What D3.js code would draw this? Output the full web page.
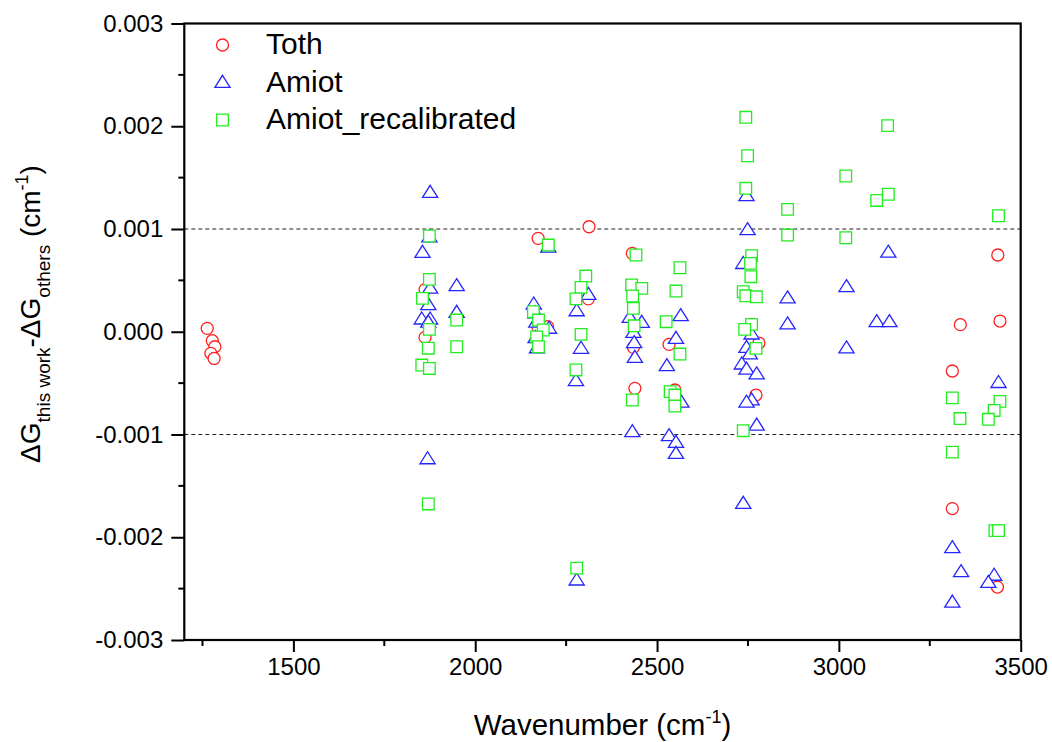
<!DOCTYPE html>
<html>
<head>
<meta charset="utf-8">
<script src="https://cdn.jsdelivr.net/npm/d3@7"></script>
<style>
  html, body { margin: 0; padding: 0; background: #fff; }
  svg { display: block; font-family: "Liberation Sans", Arial, sans-serif; }
</style>
</head>
<body>
<svg id="chart" width="1052" height="742"></svg>
<script>
// ---- Data (wavenumber in cm^-1, difference in cm^-1) ----
const seriesNames = ["Toth", "Amiot", "Amiot_recalibrated"];

const tothX = [1263, 1277, 1284, 1273, 1282, 1862, 1862, 2173, 2172, 2199, 2313, 2311,
  2432, 2435, 2439, 2533, 2549, 2780, 2772, 3334, 3443, 3437, 3312, 3312, 3436];
const tothY = [0.000033, -0.000087, -0.000146, -0.00021, -0.00026, 0.00041, -0.000055,
  0.000909, 0.00005, 0.00005, 0.001022, 0.00032, 0.000763, -0.000152, -0.000551,
  -0.000123, -0.000567, -0.00011, -0.000616, 0.000069, 0.000104, 0.000747,
  -0.000382, -0.001721, -0.002485];

const amiotX = [1876, 1855, 1874, 1876, 1871, 1853, 1876, 1871, 1869, 1949, 1949,
  2161, 2165, 2168, 2166, 2170, 2201, 2203, 2311, 2279, 2291, 2277, 2279,
  2425, 2458, 2435, 2437, 2439, 2432, 2565, 2552, 2527, 2567, 2533, 2552, 2552,
  2746, 2749, 2737, 2760, 2746, 2755, 2733, 2746, 2774, 2760, 2746, 2774, 2737,
  2859, 2859, 3021, 3021, 3136, 3104, 3139, 3439, 3312, 3336, 3427, 3411, 3312];
const amiotY = [0.001363, 0.000779, 0.00093, 0.00043, 0.00027, 0.00013, 0.00013, 0.0001,
  -0.00123, 0.000455, 0.000195, 0.000276, 0.00019, 0.0001, -0.00005, -0.00015,
  0.00083, 0.00004, 0.00037, 0.00021, -0.000155, -0.00047, -0.00241,
  0.000146, 0.000098, 0.0, -0.0001, -0.000243, -0.000966, 0.000163, -0.000058,
  -0.000324, -0.00068, -0.001005, -0.00107, -0.001177,
  0.00133, 0.000999, 0.00067, -0.000016, -0.000146, -0.00021, -0.000308, -0.000357,
  -0.000405, -0.000658, -0.00068, -0.000902, -0.001664,
  0.000335, 0.000082, 0.000445, -0.000152, 0.000781, 0.000104, 0.000104,
  -0.000488, -0.002096, -0.002329, -0.002364, -0.002434, -0.002625];

const recalX = [1874, 1874, 1855, 1874, 1871, 1853, 1874, 1871, 1949, 1949,
  2201, 2160, 2174, 2187, 2169, 2174, 2304, 2291, 2277, 2291, 2277, 2279,
  2442, 2430, 2458, 2433, 2435, 2437, 2432, 2563, 2552, 2525, 2563, 2536, 2549, 2549,
  2744, 2749, 2744, 2760, 2757, 2758, 2737, 2744, 2773, 2760, 2741, 2772, 2737,
  2859, 2859, 3019, 3019, 3134, 3104, 3136, 3439, 3312, 3443, 3427, 3333, 3411,
  3312, 3429, 3439];
const recalY = [0.000932, 0.00051, 0.000325, 0.000023, -0.00016, -0.000324, -0.000357,
  -0.001676, 0.000114, -0.000146, 0.000844, 0.000195, 0.000114, 0.000017, -0.00005,
  -0.000146, 0.000542, 0.000432, 0.00032, -0.000026, -0.000372, -0.0023,
  0.000747, 0.000455, 0.000422, 0.000348, 0.000228, 0.000058, -0.000664,
  0.000623, 0.000396, 0.000098, -0.000217, -0.000583, -0.000616, -0.000723,
  0.002087, 0.001713, 0.001396, 0.00074, 0.000665, 0.000536, 0.00039, 0.00035,
  0.00034, 0.000072, 0.000023, -0.000162, -0.000963,
  0.001191, 0.000941, 0.001516, 0.000915, 0.002006, 0.001278, 0.001338,
  0.001129, -0.000644, -0.000678, -0.000766, -0.000845, -0.000852,
  -0.001172, -0.001936, -0.001936];

const xTicks = [1500, 2000, 2500, 3000, 3500];
const xMinorTicks = [1250, 1750, 2250, 2750, 3250];
const yTicks = [-0.003, -0.002, -0.001, 0.000, 0.001, 0.002, 0.003];
const yMinorTicks = [-0.0025, -0.0015, -0.0005, 0.0005, 0.0015, 0.0025];
const refLines = [0.001, -0.001];

// ---- Layout ----
const svg = d3.select("#chart");
const L = 184.3, R = 1020.7, T = 23.5, B = 640;
const x = d3.scaleLinear().domain([1200, 3500]).range([L, R]);
const y = d3.scaleLinear().domain([-0.003, 0.003]).range([B, T]);
const FONT = '"Liberation Sans", Arial, sans-serif';

svg.append("rect").attr("width", 1052).attr("height", 742).attr("fill", "#fff");

// reference dashed lines
svg.selectAll("line.ref").data(refLines).enter().append("line")
  .attr("class", "ref")
  .attr("x1", L).attr("x2", R)
  .attr("y1", d => y(d)).attr("y2", d => y(d))
  .attr("stroke", "#222").attr("stroke-width", 1.2)
  .attr("stroke-dasharray", "4,3");

// ---- Markers ----
const colors = { Toth: "#ff2020", Amiot: "#2525ff", Amiot_recalibrated: "#20ee20" };
const symbols = {
  Toth: "M6,0A6,6 0 1,1 -6,0A6,6 0 1,1 6,0Z",
  Amiot: "M0,-6.4L7.6,5.6L-7.6,5.6Z",
  Amiot_recalibrated: "M-5.8,-5.8H5.8V5.8H-5.8Z"
};

function drawSeries(name, xs, ys) {
  const pts = xs.map((v, i) => [v, ys[i]]);
  svg.append("g").selectAll("path").data(pts).enter().append("path")
    .attr("d", symbols[name])
    .attr("transform", d => `translate(${x(d[0])},${y(d[1])})`)
    .attr("fill", "#fff")
    .attr("stroke", colors[name]).attr("stroke-width", 1.3);
}
drawSeries("Toth", tothX, tothY);
drawSeries("Amiot", amiotX, amiotY);
drawSeries("Amiot_recalibrated", recalX, recalY);

// ---- Axes ----
const xAxis = d3.axisBottom(x).tickValues(xTicks).tickSize(12).tickSizeOuter(0)
  .tickFormat(d3.format("d")).tickPadding(6);
const gx = svg.append("g").attr("transform", `translate(0,${B})`).call(xAxis);
gx.select(".domain").remove();
gx.selectAll(".tick line").attr("stroke", "#000").attr("stroke-width", 2);
gx.selectAll(".tick text").attr("font-size", 24).attr("font-family", FONT).attr("fill", "#000")
  .attr("dy", "0.72em");
svg.append("g").selectAll("line").data(xMinorTicks).enter().append("line")
  .attr("x1", d => x(d)).attr("x2", d => x(d)).attr("y1", B).attr("y2", B + 6)
  .attr("stroke", "#000").attr("stroke-width", 2);

const yAxis = d3.axisLeft(y).tickValues(yTicks).tickSize(13).tickSizeOuter(0)
  .tickFormat(d => d3.format(".3f")(d).replace("\u2212", "-")).tickPadding(8);
const gy = svg.append("g").attr("transform", `translate(${L},0)`).call(yAxis);
gy.select(".domain").remove();
gy.selectAll(".tick line").attr("stroke", "#000").attr("stroke-width", 2);
gy.selectAll(".tick text").attr("font-size", 24).attr("font-family", FONT).attr("fill", "#000");
svg.append("g").selectAll("line").data(yMinorTicks).enter().append("line")
  .attr("x1", L - 6).attr("x2", L).attr("y1", d => y(d)).attr("y2", d => y(d))
  .attr("stroke", "#000").attr("stroke-width", 2);

// frame
svg.append("rect").attr("x", L).attr("y", T).attr("width", R - L).attr("height", B - T)
  .attr("fill", "none").attr("stroke", "#000").attr("stroke-width", 2.2);

// ---- Axis titles ----
const xt = svg.append("text").attr("x", (L + R) / 2).attr("y", 735)
  .attr("text-anchor", "middle").attr("font-size", 29.5).attr("font-family", FONT).attr("fill", "#000");
xt.append("tspan").text("Wavenumber (cm");
xt.append("tspan").attr("font-size", 18).attr("dy", -12).text("-1");
xt.append("tspan").attr("dy", 12).text(")");

const yt = svg.append("text")
  .attr("transform", "translate(40,314) rotate(-90)")
  .attr("text-anchor", "middle").attr("font-size", 28).attr("font-family", FONT).attr("fill", "#000");
yt.append("tspan").text("\u0394G");
yt.append("tspan").attr("font-size", 19).attr("dy", 10).text("this work");
yt.append("tspan").attr("dy", -10).text("-\u0394G");
yt.append("tspan").attr("font-size", 19).attr("dy", 10).text("others");
yt.append("tspan").attr("dy", -10).text(" (cm");
yt.append("tspan").attr("font-size", 18).attr("dy", -12).text("-1");
yt.append("tspan").attr("dy", 12).text(")");

// ---- Legend ----
const legendRows = [
  { name: "Toth", sy: 45, ty: 54 },
  { name: "Amiot", sy: 81.7, ty: 91.7 },
  { name: "Amiot_recalibrated", sy: 120, ty: 128.5 }
];
const lg = svg.append("g");
lg.selectAll("path").data(legendRows).enter().append("path")
  .attr("d", d => symbols[d.name])
  .attr("transform", d => `translate(222.5,${d.sy})`)
  .attr("fill", "none").attr("stroke", d => colors[d.name]).attr("stroke-width", 1.3);
lg.selectAll("text").data(legendRows).enter().append("text")
  .attr("x", 266).attr("y", d => d.ty)
  .attr("font-size", 30).attr("font-family", FONT).attr("fill", "#000")
  .text(d => d.name);
</script>
</body>
</html>
